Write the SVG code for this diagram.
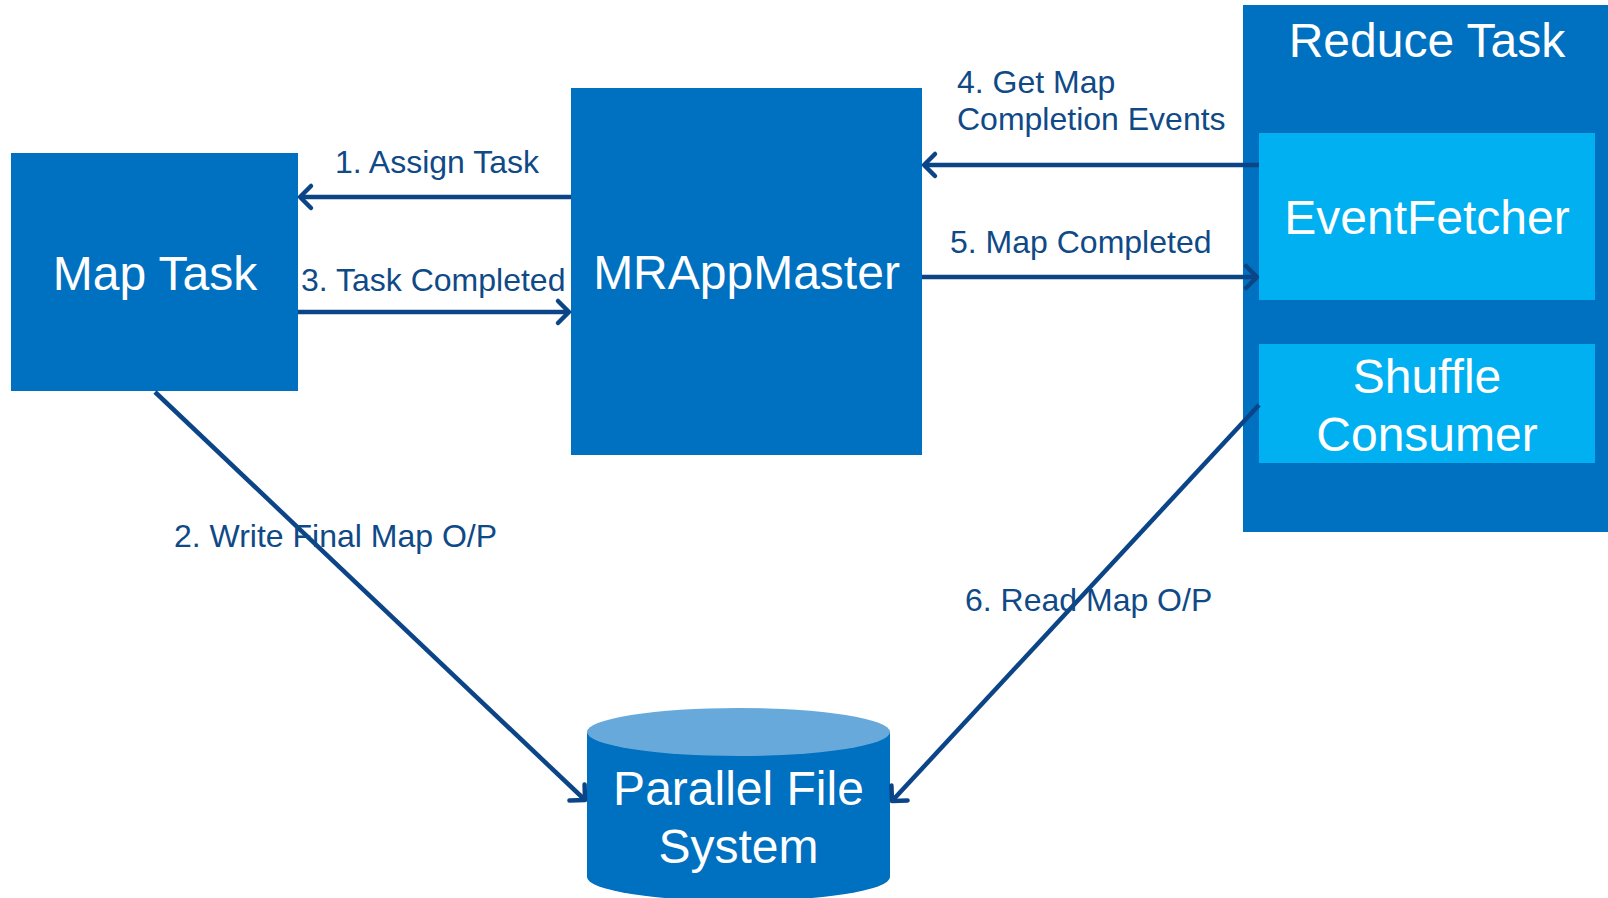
<svg xmlns="http://www.w3.org/2000/svg" width="1608" height="898" viewBox="0 0 1608 898">
<style>
.box{fill:#0070C0}
.inner{fill:#00B0F0}
.nt{font-family:"Liberation Sans",Arial,sans-serif;font-size:48px;fill:#FFFFFF;text-anchor:middle}
.lbl{font-family:"Liberation Sans",Arial,sans-serif;font-size:32px;fill:#0F4A87}
.conn{stroke:#0B4587;stroke-width:4.5;fill:none;marker-end:url(#arr)}
</style>
<defs>
<marker id="arr" markerUnits="userSpaceOnUse" markerWidth="30" markerHeight="30" viewBox="-15 -15 30 30" refX="0" refY="0" orient="auto">
<path d="M -11 -11 L 0 0 L -11 11" fill="none" stroke="#0B4587" stroke-width="4.5" stroke-linecap="round" stroke-linejoin="round"/>
</marker>
</defs>
<rect width="1608" height="898" fill="#FFFFFF"/>
<g id="map-task">
<rect class="box" x="11" y="153" width="287" height="238"/>
<text class="nt" x="155" y="290">Map Task</text>
</g>
<g id="mrappmaster">
<rect class="box" x="571" y="88" width="351" height="367"/>
<text class="nt" x="746.5" y="289">MRAppMaster</text>
</g>
<g id="reduce-task">
<rect class="box" x="1243" y="5" width="365" height="527"/>
<text class="nt" x="1427" y="57">Reduce Task</text>
</g>
<g id="event-fetcher">
<rect class="inner" x="1259" y="133" width="336" height="167"/>
<text class="nt" x="1427" y="234">EventFetcher</text>
</g>
<g id="shuffle-consumer">
<rect class="inner" x="1259" y="344" width="336" height="119"/>
<text class="nt" x="1427" y="393">Shuffle</text>
<text class="nt" x="1427" y="451">Consumer</text>
</g>
<g id="parallel-fs">
<path class="box" d="M587,732 L587,877 A151.5,24 0 0 0 890,877 L890,732 Z"/>
<ellipse cx="738.5" cy="732" rx="151.5" ry="24" fill="#66A9DA"/>
<text class="nt" x="738.5" y="805">Parallel File</text>
<text class="nt" x="738.5" y="863">System</text>
</g>
<g id="connectors">
<line class="conn" x1="571" y1="197" x2="300" y2="197"/>
<line class="conn" x1="298" y1="312" x2="569" y2="312"/>
<line class="conn" x1="1259" y1="165" x2="924" y2="165"/>
<line class="conn" x1="922" y1="277" x2="1257" y2="277"/>
<line class="conn" x1="155" y1="392" x2="585" y2="800"/>
<line class="conn" x1="1259" y1="405" x2="892" y2="801"/>
</g>
<g id="labels">
<text class="lbl" x="335" y="173">1. Assign Task</text>
<text class="lbl" x="301" y="291">3. Task Completed</text>
<text class="lbl" x="957" y="93">4. Get Map</text>
<text class="lbl" x="957" y="130">Completion Events</text>
<text class="lbl" x="950" y="253">5. Map Completed</text>
<text class="lbl" x="174" y="547">2. Write Final Map O/P</text>
<text class="lbl" x="965" y="611">6. Read Map O/P</text>
</g>
</svg>
